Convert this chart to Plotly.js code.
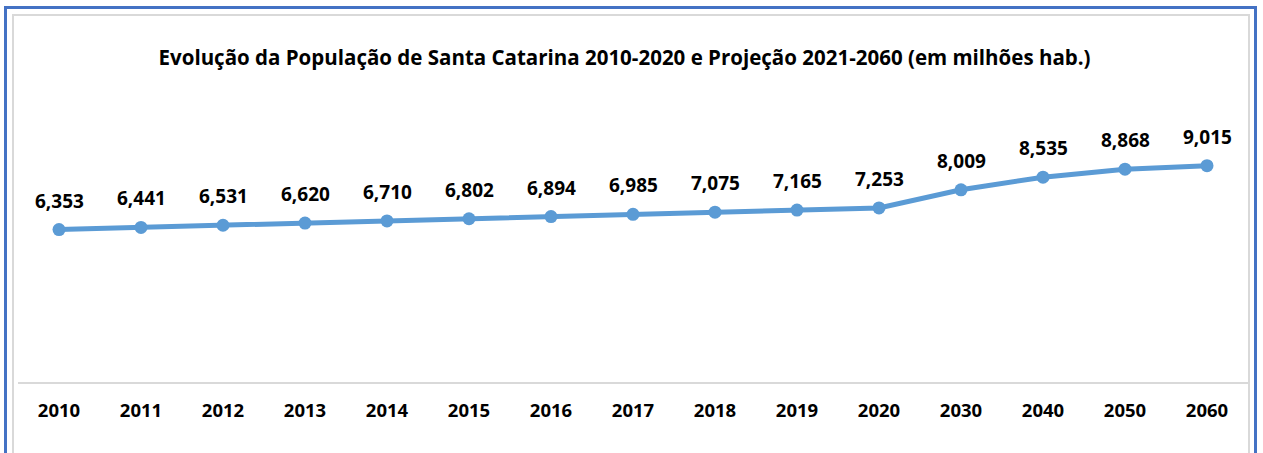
<!DOCTYPE html>
<html>
<head>
<meta charset="utf-8">
<script src="https://cdn.plot.ly/plotly-3.0.1.min.js"></script>
<style>
  html, body { margin: 0; padding: 0; background: #ffffff; width: 1263px; height: 453px; overflow: hidden; }
  #outer { position: absolute; left: 4px; top: 6px; width: 1247px; height: 460px; border: 3px solid #4472C4; }
  #inner { position: absolute; left: 12px; top: 14px; width: 1234px; height: 460px; border: 2px solid #d9d9d9; }
  #chart { position: absolute; left: 0; top: 0; width: 1263px; height: 453px; }
</style>
</head>
<body>
<div id="outer"></div>
<div id="inner"></div>
<div id="chart"></div>
<script>
const years = ["2010","2011","2012","2013","2014","2015","2016","2017","2018","2019","2020","2030","2040","2050","2060"];
const population = [6.353, 6.441, 6.531, 6.620, 6.710, 6.802, 6.894, 6.985, 7.075, 7.165, 7.253, 8.009, 8.535, 8.868, 9.015];
const titleText = "Evolução da População de Santa Catarina 2010-2020 e Projeção 2021-2060 (em milhões hab.)";

const fontFamily = "'Open Sans', 'Noto Sans', sans-serif";
const labels = population.map(v => v.toFixed(3).replace('.', ','));

const trace = {
  x: years,
  y: population,
  type: 'scatter',
  mode: 'lines+markers',
  line: { color: '#5B9BD5', width: 5 },
  marker: { color: '#5B9BD5', size: 13 },
  hoverinfo: 'none'
};

const annotations = years.map((yr, i) => ({
  x: i,
  y: population[i],
  xref: 'x',
  yref: 'y',
  text: '<b>' + labels[i] + '</b>',
  showarrow: false,
  yanchor: 'middle',
  xanchor: 'center',
  yshift: 29,
  font: { family: fontFamily, size: 19, color: '#000000' }
}));

const layout = {
  width: 1263,
  height: 453,
  margin: { l: 18, r: 15, t: 142, b: 71 },
  paper_bgcolor: 'rgba(0,0,0,0)',
  plot_bgcolor: 'rgba(0,0,0,0)',
  showlegend: false,
  title: {
    text: '<b>' + titleText + '</b>',
    font: { family: fontFamily, size: 20.5, color: '#000000' },
    xref: 'container',
    yref: 'container',
    x: 0.4945,
    xanchor: 'center',
    y: 1 - 58 / 453,
    yanchor: 'middle'
  },
  xaxis: {
    type: 'category',
    range: [-0.5, years.length - 0.5],
    showgrid: false,
    zeroline: false,
    showline: true,
    linecolor: '#d9d9d9',
    linewidth: 2,
    ticks: 'outside',
    ticklen: 11,
    tickcolor: 'rgba(0,0,0,0)',
    tickfont: { family: fontFamily, size: 18.5, color: '#000000', weight: 'bold' },
    fixedrange: true
  },
  yaxis: {
    range: [0, 10],
    visible: false,
    showgrid: false,
    zeroline: false,
    fixedrange: true
  },
  annotations: annotations
};

Plotly.newPlot('chart', [trace], layout, { displayModeBar: false, staticPlot: true });
</script>
</body>
</html>
